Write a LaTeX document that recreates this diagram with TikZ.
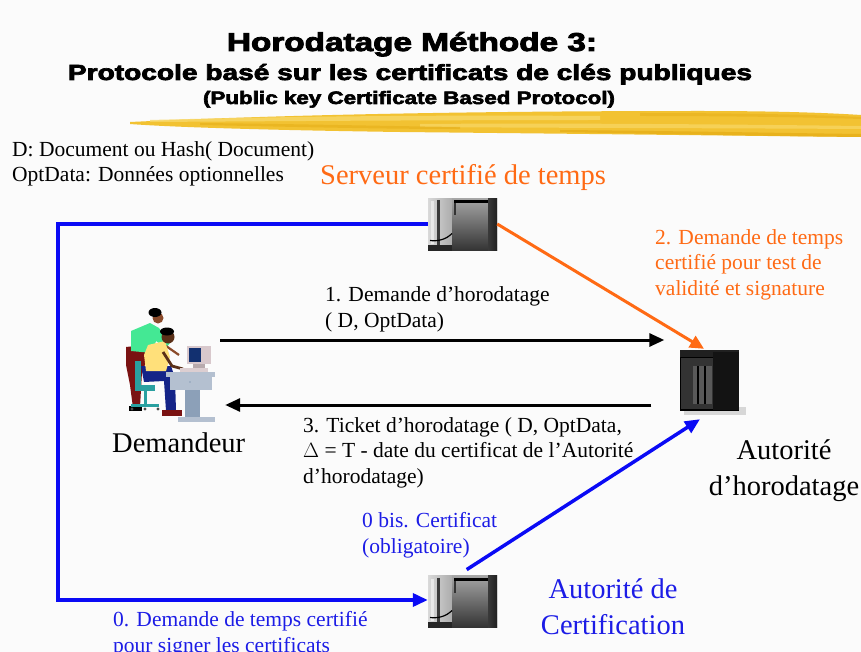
\documentclass[tikz,border=0pt]{standalone}
\usepackage{fontspec}
\setmainfont{Liberation Serif}
\newfontfamily\headfont{Liberation Sans}[BoldFeatures={FakeBold=3}]
\usetikzlibrary{arrows.meta}

\definecolor{pagebg}{HTML}{FBFBFB}
\definecolor{orangeT}{HTML}{FF6A14}
\definecolor{blueT}{HTML}{1C1CE6}
\definecolor{blueL}{HTML}{0A0AF5}
\definecolor{brushA}{HTML}{F2C232}
\definecolor{brushB}{HTML}{F8D868}
\definecolor{brushC}{HTML}{E6AE18}
\definecolor{skinA}{HTML}{8A4A2A}
\definecolor{skinB}{HTML}{5A3018}
\definecolor{shirtG}{HTML}{44E894}
\definecolor{shirtY}{HTML}{FFE07A}
\definecolor{pantsR}{HTML}{7A1212}
\definecolor{pantsB}{HTML}{142488}
\definecolor{chairT}{HTML}{2AA0A0}
\definecolor{deskA}{HTML}{B4C0D0}
\definecolor{deskB}{HTML}{8CA0B8}
\definecolor{monA}{HTML}{D8C8CC}
\definecolor{monS}{HTML}{123070}

\newcommand{\smallfont}{\fontsize{21.5}{25.7}\selectfont}
\newcommand{\bigfont}{\fontsize{28.5}{36}\selectfont}

% tower server drawn from its top-left corner
\newcommand{\towericon}[2]{%
  \begin{scope}[shift={(#1,#2)}]
    \fill[gray!55] (0,3) rectangle (69,55);
    \shade[left color=gray!30, right color=gray!65] (0,3) rectangle (24,55);
    \fill[white, opacity=0.5] (3,6) rectangle (6,48);
    \fill[gray!45!black] (9,5) rectangle (12,50);
    \shade[top color=gray!70, bottom color=gray!40!black] (24,3) rectangle (69,55);
    \fill[black] (26,5) rectangle (64,8);
    \fill[black!80] (26,8) rectangle (28,20);
    \shade[left color=gray!45!black, right color=gray!25!black] (60,3) rectangle (69,55);
    \draw[black, line width=1.2pt] (2,45) .. controls (10,46) and (18,44) .. (24,38);
    \fill[gray!30!black] (0,49) rectangle (24,55);
  \end{scope}}

\tikzset{
  labelS/.style={font=\smallfont, inner sep=0pt, anchor=base west, align=left},
  labelB/.style={font=\bigfont, inner sep=0pt, anchor=base, align=center},
  iconbox/.style={inner sep=0pt, draw=none},
  blackarrow/.style={line width=3pt, black, -{Triangle[length=15pt,width=13pt]}},
  bluearrow/.style={line width=3.5pt, blueL, -{Triangle[length=15pt,width=13pt]}},
  orangearrow/.style={line width=3pt, orangeT, -{Triangle[length=14pt,width=13pt]}},
}

\begin{document}
\begin{tikzpicture}[x=1pt, y=-1pt]
  \useasboundingbox (0,0) rectangle (861,652);
  \fill[pagebg] (0,0) rectangle (861,652);

  % ---------- titles ----------
  \node[inner sep=0pt, anchor=base] (t1) at (412,51)
    {\resizebox{370pt}{19pt}{\headfont\bfseries Horodatage Méthode 3:}};
  \node[inner sep=0pt, anchor=base] (t2) at (410,80)
    {\resizebox{684pt}{16pt}{\headfont\bfseries Protocole basé sur les certificats de clés publiques}};
  \node[inner sep=0pt, anchor=base] (t3) at (409,104)
    {\resizebox{412pt}{13pt}{\headfont\bfseries (Public key Certificate Based Protocol)}};

  % ---------- brush stroke under the title ----------
  \fill[brushA] (130,122) .. controls (300,114) and (500,111) .. (700,111)
     .. controls (780,111) and (830,113) .. (861,115) -- (861,137)
     .. controls (760,136) and (600,134) .. (400,132)
     .. controls (260,130) and (170,127) .. (130,124) -- cycle;
  \fill[brushB, opacity=0.8] (150,120) .. controls (300,116) and (450,115) .. (600,116)
     -- (600,120) .. controls (450,120) and (300,121) .. (150,122) -- cycle;
  \fill[brushB, opacity=0.7] (420,124) .. controls (550,123) and (700,124) .. (861,126)
     -- (861,129) .. controls (700,128) and (550,128) .. (420,127) -- cycle;
  \fill[brushC, opacity=0.8] (560,130) .. controls (680,131) and (780,133) .. (861,134)
     -- (861,137) .. controls (760,136) and (660,134) .. (560,132) -- cycle;
  \fill[brushC, opacity=0.6] (200,123) .. controls (300,124) and (380,126) .. (460,127)
     -- (460,129) .. controls (380,129) and (300,127) .. (200,125) -- cycle;
  \fill[brushC, opacity=0.5] (640,113) .. controls (720,113) and (800,114) .. (861,117)
     -- (861,119) .. controls (800,117) and (720,116) .. (640,116) -- cycle;

  % ---------- legend ----------
  \node[labelS] (legend) at (12,182)
    {D: Document ou Hash( Document)\\OptData: Données optionnelles};

  % ---------- icons ----------
  \node[iconbox, minimum width=69pt, minimum height=57pt] (srv) at (462.5,224) {};
  \towericon{428}{195.5}
  \node[iconbox, minimum width=69pt, minimum height=55pt] (ca) at (462.5,600) {};
  \towericon{428}{572.5}

  % time-stamping authority cabinet
  \node[iconbox, minimum width=65pt, minimum height=70pt] (auth) at (712,384) {};
  \fill[black!25, opacity=0.6] (684,407) rectangle (746,415);
  \fill[black] (680,350) rectangle (739,411);
  \fill[gray!25!black] (680,350) rectangle (739,357);
  \fill[gray!40!black] (681,358) rectangle (713,409);
  \fill[gray!70!black] (693,366) rectangle (712,404);
  \fill[black] (697,366) rectangle (699,404);
  \fill[black] (704,366) rectangle (706,404);
  \fill[gray!15!black] (713,352) rectangle (739,410);

  % requesting users at their desk
  \node[iconbox, minimum width=90pt, minimum height=122pt] (dem) at (170,361) {};
  % standing woman
  \fill[pantsR] (126,347) -- (145,345) -- (147,360) -- (142,372) -- (140,407)
     -- (133,408) -- (130,385) -- (126,365) -- cycle;
  \fill[black] (129,406) rectangle (142,411);
  \fill[shirtG] (131,331) -- (150,323) -- (159,328) -- (170,343) -- (166,348)
     -- (156,341) -- (152,353) -- (131,351) -- cycle;
  \draw[skinA, line width=2.2pt] (166,346) -- (179,355);
  \fill[skinA] (158,318) circle (5.5);
  \fill[black] (155,312.5) ellipse (6.5 and 4.5);
  % chair
  \fill[chairT] (135,361) rectangle (141,387);
  \fill[chairT] (135,385) rectangle (155,391);
  \fill[chairT] (144,391) rectangle (147,405);
  \fill[chairT] (131,404) rectangle (159,407);
  \fill[black!70] (132,409) circle (1.6) (158,409) circle (1.6) (145,409) circle (1.6);
  % seated man
  \fill[pantsB] (141,366) -- (171,366) -- (175,378) -- (176,411) -- (166,411)
     -- (164,381) -- (144,382) -- cycle;
  \fill[pantsR] (162,410) rectangle (182,416);
  \fill[shirtY] (148,345) -- (165,341) -- (170,357) -- (166,371) -- (146,371)
     -- (144,355) -- cycle;
  \draw[skinB, line width=2.8pt] (163,352) -- (172,366) -- (183,369);
  \fill[skinB] (168,337) circle (6.5);
  \fill[black] (167,331.5) ellipse (7 and 4);
  % desk
  \fill[deskA] (166,372) rectangle (215,377);
  \fill[deskA] (170,377) rectangle (212,390);
  \fill[deskB] (185,390) rectangle (200,418);
  \fill[deskA] (178,417) rectangle (215,422);
  \fill[deskB] (190,382) circle (0.8);
  % computer
  \fill[monA] (187,346) rectangle (211,364);
  \fill[monS] (189,348) rectangle (201,362);
  \fill[monA!85!black] (193,364) rectangle (205,368);
  \fill[monA!90!white] (180,368) rectangle (208,372);

  % ---------- labels ----------
  \node[font=\bigfont, inner sep=0pt, anchor=base west, text=orangeT] (srvlab) at (320,185)
    {Serveur certifié de temps};
  \node[font=\bigfont, inner sep=0pt, anchor=base west] (demlab) at (112,452) {Demandeur};
  \node[labelB] (authlab) at (784,495) {Autorité\\d’horodatage};
  \node[labelB, text=blueT] (calab) at (613,634) {Autorité de\\Certification};

  \node[labelS, text=orangeT] (lab2) at (655,295.5)
    {2. Demande de temps\\certifié pour test de\\validité et signature};
  \node[labelS] (lab1) at (325,327.5) {1. Demande d’horodatage\\( D, OptData)};
  \node[labelS] (lab3) at (303,483.5)
    {3. Ticket d’horodatage ( D, OptData,\\$\Delta$ = T - date du certificat de l’Autorité\\d’horodatage)};
  \node[labelS, text=blueT] (lab0b) at (362,553.5) {0 bis. Certificat\\(obligatoire)};
  \node[labelS, text=blueT] (lab0) at (113,652.5) {0. Demande de temps certifié\\pour signer les certificats};

  % ---------- connectors ----------
  \coordinate (r1) at (0,340);
  \coordinate (r3) at (0,405);
  \coordinate (bendL) at (58,400);

  \draw[blackarrow, shorten <=5pt, shorten >=15pt] (dem.east |- r1) -- (auth.west |- r1);
  \draw[blackarrow, shorten <=28pt, shorten >=10pt] (auth.west |- r3) -- (dem.east |- r3);
  \draw[bluearrow, line join=miter] (srv.west) -| (bendL) |- (ca.west);
  \draw[orangearrow] (srv.east) -- ([xshift=-8pt]auth.north);
  \draw[bluearrow, shorten <=5pt] (ca.north) -- ([xshift=-12pt]auth.south);
\end{tikzpicture}
\end{document}
